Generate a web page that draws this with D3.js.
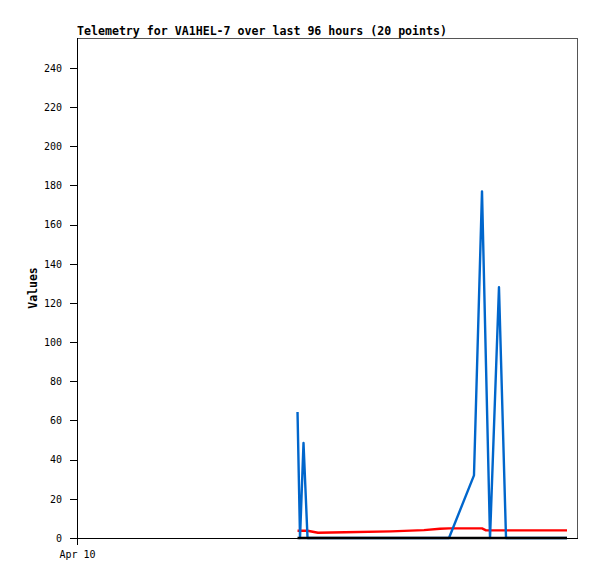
<!DOCTYPE html>
<html>
<head>
<meta charset="utf-8">
<script src="https://cdn.jsdelivr.net/npm/d3@7"></script>
<style>
  html, body { margin: 0; padding: 0; background: #fff; }
  svg { display: block; }
</style>
</head>
<body>
<div id="chart"></div>
<script>
// ---- data (hours since Apr 10 00:00 over a 96 h window) ----
const hours   = [42.34, 42.82, 43.49, 44.26, 46.27, 51.46, 60.29, 66.62, 69.70, 71.42,
                 76.22, 77.76, 78.53, 79.30, 81.02, 82.37, 86.98, 94.08];
const blue    = [64.3, 0, 48.5, 0, 0, 0, 0, 0, 0, 0,
                 32, 177, 88, 0, 128, 0, 0, 0];
const red     = [3.7, 3.7, 3.7, 3.7, 2.7, 2.9, 3.4, 4.0, 4.7, 4.9,
                 4.9, 4.9, 3.9, 3.9, 3.9, 3.9, 3.9, 3.9];
const black   = [0, 0, 0, 0, 0, 0, 0, 0, 0, 0,
                 0, 0, 0, 0, 0, 0, 0, 0];
const yTicks  = [0, 20, 40, 60, 80, 100, 120, 140, 160, 180, 200, 220, 240];
const xTicks  = [0];
const xTickLabels = ["Apr 10"];
const title   = "Telemetry for VA1HEL-7 over last 96 hours (20 points)";
const yLabel  = "Values";

(function () {
// ---- layout ----
const W = 597, H = 579;
const mL = 77, mR = 577, mT = 38, mB = 538;

const svg = d3.select("#chart").append("svg")
  .attr("width", W).attr("height", H);

const x = d3.scaleLinear().domain([0, 96]).range([mL, mR]);
const y = d3.scaleLinear().domain([0, 255.3]).range([mB, mT]);

const mono = "'DejaVu Sans Mono', 'Liberation Mono', monospace";

// frame (top & right grey)
svg.append("path")
  .attr("d", `M${mL},${mT + 0.5}H${mR + 0.5}V${mB}`)
  .attr("fill", "none").attr("stroke", "#555").attr("stroke-width", 1)
  .attr("shape-rendering", "crispEdges");

// series
const line = d3.line().x((d, i) => x(hours[i])).y(d => y(d));
const series = [
  { vals: red,   color: "#ff0000" },
  { vals: blue,  color: "#0066cc" },
  { vals: black, color: "#000000" }
];
series.forEach(s => {
  svg.append("path")
    .datum(s.vals)
    .attr("d", line)
    .attr("fill", "none")
    .attr("stroke", s.color)
    .attr("stroke-width", 2.4)
    .attr("stroke-linejoin", "round");
});

// y axis
const yAxis = d3.axisLeft(y).tickValues(yTicks).tickSize(7).tickPadding(8)
  .tickFormat(d3.format("d"));
const gy = svg.append("g").attr("transform", `translate(${mL},0)`).call(yAxis);
gy.select(".domain").remove();
gy.selectAll("line").attr("stroke", "#000").attr("shape-rendering", "crispEdges");
gy.selectAll("text").attr("font-family", mono).attr("font-size", "10px").attr("fill", "#000");

// x axis
const xAxis = d3.axisBottom(x).tickValues(xTicks).tickSize(7).tickPadding(6)
  .tickFormat((d, i) => xTickLabels[i]);
const gx = svg.append("g").attr("transform", `translate(0,${mB})`).call(xAxis);
gx.select(".domain").remove();
gx.selectAll("line").attr("stroke", "#000").attr("shape-rendering", "crispEdges");
gx.selectAll("text").attr("font-family", mono).attr("font-size", "10px").attr("fill", "#000");

// axis lines (black left & bottom)
svg.append("line").attr("x1", mL + 0.5).attr("x2", mL + 0.5)
  .attr("y1", mT).attr("y2", mB + 7)
  .attr("stroke", "#000").attr("shape-rendering", "crispEdges");
svg.append("line").attr("x1", mL).attr("x2", mR + 1)
  .attr("y1", mB + 0.5).attr("y2", mB + 0.5)
  .attr("stroke", "#000").attr("shape-rendering", "crispEdges");

// title
svg.append("text")
  .attr("x", mL).attr("y", 35)
  .attr("font-family", mono).attr("font-weight", "bold").attr("font-size", "11.5px")
  .attr("textLength", 370).attr("lengthAdjust", "spacingAndGlyphs")
  .text(title);

// y label
svg.append("text")
  .attr("transform", `translate(37,${(mT + mB) / 2}) rotate(-90)`)
  .attr("text-anchor", "middle")
  .attr("font-family", mono).attr("font-weight", "bold").attr("font-size", "11.5px")
  .text(yLabel);
})();
</script>
</body>
</html>
